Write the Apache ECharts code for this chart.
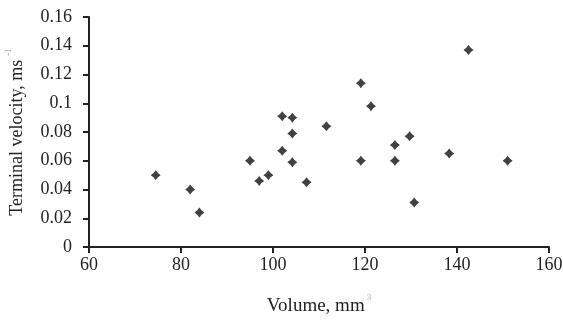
<!DOCTYPE html>
<html>
<head>
<meta charset="utf-8">
<script src="https://cdn.jsdelivr.net/npm/echarts@6/dist/echarts.min.js"></script>
<style>
  html, body { margin: 0; padding: 0; background: #fff; }
  #chart { width: 563px; height: 320px; }
</style>
</head>
<body>
<div id="chart"></div>
<script>
// volume (mm^3) and terminal velocity (m/s)
const volume = [74.5, 82, 84, 95, 97, 99, 102, 104.2, 104.2, 102, 104.2, 107.3,
  111.6, 119.1, 121.3, 119.1, 126.5, 126.5, 129.7, 130.7, 138.3, 142.5, 151];
const velocity = [0.050, 0.040, 0.024, 0.060, 0.046, 0.050, 0.091, 0.090, 0.079, 0.067, 0.059, 0.045,
  0.084, 0.114, 0.098, 0.060, 0.071, 0.060, 0.077, 0.031, 0.065, 0.137, 0.060];

const pts = [];
for (let i = 0; i < volume.length; i++) {
  pts.push([volume[i], velocity[i]]);
}

const font = 'Liberation Serif';
const chart = echarts.init(document.getElementById('chart'));

var option = {
  animation: false,
  textStyle: { fontFamily: font },
  grid: { left: 89, right: 14, top: 17, bottom: 73, outerBoundsMode: 'none', containLabel: false },
  xAxis: {
    type: 'value',
    min: 60, max: 160, interval: 20,
    name: 'Volume, mm{sup|3}',
    nameLocation: 'middle',
    nameGap: 46,
    nameTextStyle: {
      fontFamily: font, fontSize: 19, color: '#222',
      rich: { sup: { fontSize: 9, color: '#aaa', padding: [0, 0, 18, 2] } }
    },
    axisLine: { lineStyle: { color: '#222', width: 2 } },
    axisTick: { show: true, length: 6, lineStyle: { color: '#222', width: 2 } },
    axisLabel: { fontFamily: font, fontSize: 18, color: '#222', margin: 9 },
    splitLine: { show: false }
  },
  yAxis: {
    type: 'value',
    min: 0, max: 0.16, interval: 0.02,
    name: 'Terminal velocity, ms{sup|-1}',
    nameLocation: 'middle',
    nameGap: 58,
    nameTextStyle: {
      fontFamily: font, fontSize: 18, color: '#222',
      rich: { sup: { fontSize: 9, color: '#aaa', padding: [0, 0, 18, 4] } }
    },
    axisLine: { show: true, lineStyle: { color: '#222', width: 2 } },
    axisTick: { show: true, length: 6, lineStyle: { color: '#222', width: 2 } },
    axisLabel: { fontFamily: font, fontSize: 18, color: '#222', margin: 17 },
    splitLine: { show: false }
  },
  series: [{
    type: 'scatter',
    data: pts,
    symbol: 'path://M0,-5 L2.2,-2.2 L5,0 L2.2,2.2 L0,5 L-2.2,2.2 L-5,0 L-2.2,-2.2 Z',
    symbolSize: 10,
    itemStyle: { color: '#111' }
  }]
};
chart.setOption(option);
</script>
</body>
</html>
